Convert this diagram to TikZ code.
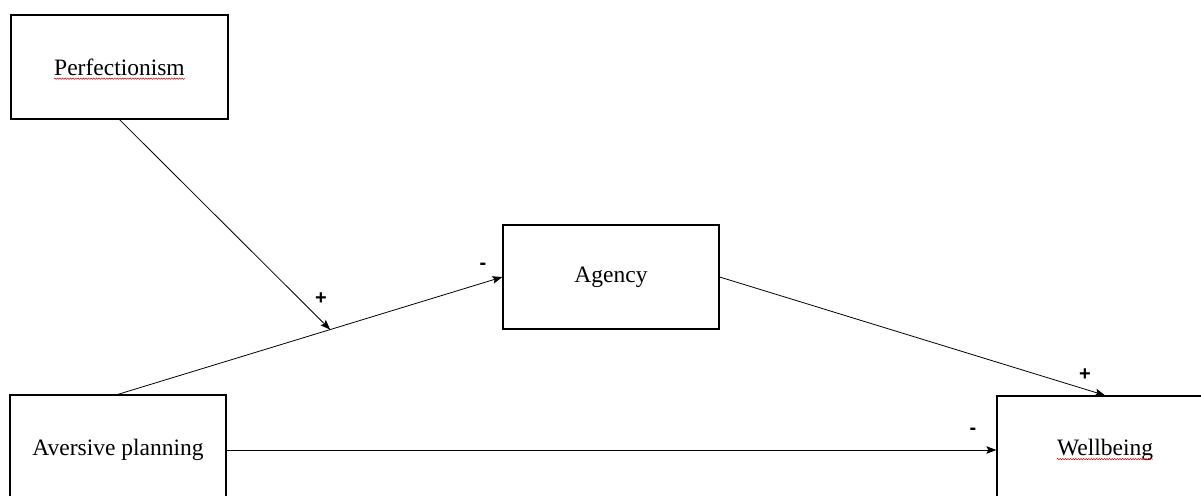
\documentclass[tikz,border=0pt]{standalone}
\usepackage{fontspec}
\setmainfont{Liberation Serif}
\newfontfamily\signfont{Liberation Sans}
\usetikzlibrary{arrows.meta,calc,decorations.pathmorphing}
\newlength\avwidth
\begin{document}
\begin{tikzpicture}[x=1pt,y=-1pt,
  box/.style={draw=black,line width=1.3pt,minimum width=216pt,inner sep=0pt},
  lbl/.style={inner sep=0pt,font=\fontsize{23.5}{28}\selectfont},
  conn/.style={draw=black,line width=0.8pt,-{Stealth[length=10pt,width=7.5pt,inset=2pt]}},
  sign/.style={inner sep=0pt,font=\signfont\fontsize{20}{22}\selectfont\bfseries},
  spell/.style={draw=red!85!black,line width=0.5pt,decorate,decoration={snake,amplitude=0.7pt,segment length=2.6pt}}]
\useasboundingbox (0,0) rectangle (1201,495);
\fill[white] (0,0) rectangle (1201,495);
% boxes
\node[box,minimum width=217pt,minimum height=104pt] (perf) at (119.5,67) {};
\node[box,minimum height=104pt] (agency) at (611,277) {};
\node[box,minimum height=110pt] (avers) at (118,450) {};
\node[box,minimum height=108pt] (well) at (1105,450) {};
% texts
\node[lbl] (perfT) at (perf.center) {Perfectionism};
\node[lbl] (agencyT) at (agency.center) {Agency};
\node[lbl] (aversT) at (avers.center) {Aversive planning};
\node[lbl] (wellT) at (well.center) {Wellbeing};
% spell-check underlines
\settowidth\avwidth{\fontsize{23.5}{28}\selectfont Aversive}
\draw[spell] ($(perfT.base west)+(0,3.5)$) -- ($(perfT.base east)+(0,3.5)$);
\draw[spell] ($(aversT.base west)+(0,3.5)$) -- ($(aversT.base west)+(\the\avwidth,3.5)$);
\draw[spell] ($(wellT.base west)+(0,3.5)$) -- ($(wellT.base east)+(0,3.5)$);
% connectors
\coordinate (mod) at ($(avers.north)!0.552!(agency.west)$);
\draw[conn] (avers.north) -- (agency.west);
\draw[conn] (perf.south) -- (mod);
\draw[conn] (agency.east) -- (well.north);
\draw[conn] (avers.east) -- (well.west);
% signs
\node[sign] (s1) at (321,299) {+};
\node[sign] (s2) at (483,266) {-};
\node[sign] (s3) at (1085,375) {+};
\node[sign] (s4) at (973,431) {-};
\end{tikzpicture}
\end{document}
